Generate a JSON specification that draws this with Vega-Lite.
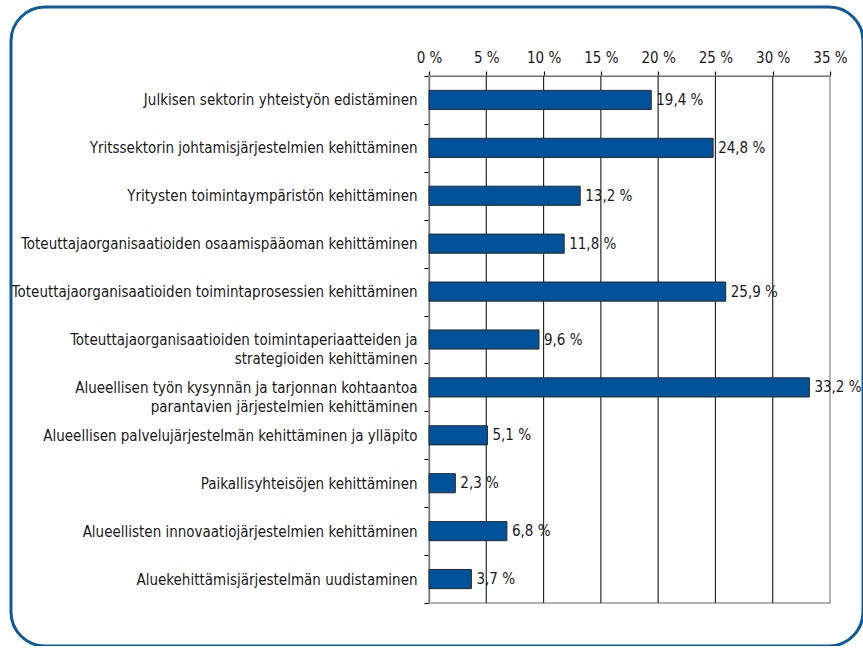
{
  "$schema": "https://vega.github.io/schema/vega-lite/v6.json",
  "width": 852,
  "height": 639,
  "autosize": {"type": "none"},
  "padding": {"left": 11, "top": 7, "right": 0, "bottom": 0},
  "config": {
    "view": {"stroke": "#0d5a9e", "strokeWidth": 3, "cornerRadius": 34, "fill": "white"},
    "font": "DejaVu Sans Condensed, sans-serif",
    "axis": {"labelColor": "#1a1a1a", "labelFont": "DejaVu Sans Condensed, sans-serif"}
  },
  "datasets": {
    "bars": [
      {"kategoria": "Julkisen sektorin yhteistyön edistäminen", "osuus": 19.4, "teksti": "19,4 %"},
      {"kategoria": "Yritssektorin johtamisjärjestelmien kehittäminen", "osuus": 24.8, "teksti": "24,8 %"},
      {"kategoria": "Yritysten toimintaympäristön kehittäminen", "osuus": 13.2, "teksti": "13,2 %"},
      {"kategoria": "Toteuttajaorganisaatioiden osaamispääoman kehittäminen", "osuus": 11.8, "teksti": "11,8 %"},
      {"kategoria": "Toteuttajaorganisaatioiden toimintaprosessien kehittäminen", "osuus": 25.9, "teksti": "25,9 %"},
      {"kategoria": "Toteuttajaorganisaatioiden toimintaperiaatteiden ja|strategioiden kehittäminen", "osuus": 9.6, "teksti": "9,6 %"},
      {"kategoria": "Alueellisen työn kysynnän ja tarjonnan kohtaantoa|parantavien järjestelmien kehittäminen", "osuus": 33.2, "teksti": "33,2 %"},
      {"kategoria": "Alueellisen palvelujärjestelmän kehittäminen ja ylläpito", "osuus": 5.1, "teksti": "5,1 %"},
      {"kategoria": "Paikallisyhteisöjen kehittäminen", "osuus": 2.3, "teksti": "2,3 %"},
      {"kategoria": "Alueellisten innovaatiojärjestelmien kehittäminen", "osuus": 6.8, "teksti": "6,8 %"},
      {"kategoria": "Aluekehittämisjärjestelmän uudistaminen", "osuus": 3.7, "teksti": "3,7 %"}
    ],
    "grid": [{"v": 5}, {"v": 10}, {"v": 15}, {"v": 20}, {"v": 25}, {"v": 30}],
    "frame": [{"alku": 0, "loppu": 35}]
  },
  "layer": [
    {
      "layer": [
        {
          "data": {"name": "frame"},
          "mark": {"type": "rect", "fill": null, "stroke": "#9a9a9a", "strokeWidth": 1.5},
          "encoding": {
            "x": {
              "field": "alku", "type": "quantitative",
              "scale": {"domain": [0, 35], "range": [418, 819], "nice": false},
              "axis": {
                "title": null, "orient": "top", "offset": -69,
                "values": [0, 5, 10, 15, 20, 25, 30, 35],
                "labelExpr": "datum.value + ' %'",
                "domainColor": "#000", "domainWidth": 1.2, "tickColor": "#000", "tickSize": 5, "tickWidth": 1.2,
                "labelFontSize": 15, "labelPadding": 6, "grid": false, "labelFlush": false, "labelOverlap": false
              }
            },
            "x2": {"field": "loppu"},
            "y": {"datum": 0, "type": "quantitative", "scale": {"domain": [0, 1], "range": [596, 69]}, "axis": null},
            "y2": {"datum": 1}
          }
        },
        {
          "data": {"name": "grid"},
          "mark": {"type": "rule", "color": "#2a2a2a", "strokeWidth": 1.2},
          "encoding": {
            "x": {"field": "v", "type": "quantitative"},
            "y": {"datum": 0, "type": "quantitative"},
            "y2": {"datum": 1}
          }
        }
      ]
    },
    {
      "data": {"name": "bars"},
      "encoding": {
        "y": {
          "field": "kategoria", "type": "nominal", "sort": null,
          "scale": {"range": [69, 596], "paddingInner": 0, "paddingOuter": 0},
          "axis": {
            "title": null, "orient": "left", "offset": -418,
            "domainColor": "#000", "domainWidth": 1.2, "tickColor": "#000", "tickSize": 5, "tickWidth": 1.2,
            "tickBand": "extent",
            "labelFontSize": 15, "labelPadding": 7, "labelLimit": 500, "labelLineHeight": 19,
            "labelExpr": "split(datum.label, '|')", "grid": false
          }
        }
      },
      "layer": [
        {
          "mark": {"type": "bar", "fill": "#00529b", "stroke": "#2b2b2b", "strokeWidth": 1, "height": {"band": 0.4}},
          "encoding": {
            "x": {"field": "osuus", "type": "quantitative"}
          }
        },
        {
          "mark": {"type": "text", "align": "left", "baseline": "middle", "dx": 5, "fontSize": 15, "color": "#1a1a1a"},
          "encoding": {
            "x": {"field": "osuus", "type": "quantitative"},
            "text": {"field": "teksti"}
          }
        }
      ]
    }
  ],
  "resolve": {"scale": {"y": "independent"}, "axis": {"y": "independent"}}
}
